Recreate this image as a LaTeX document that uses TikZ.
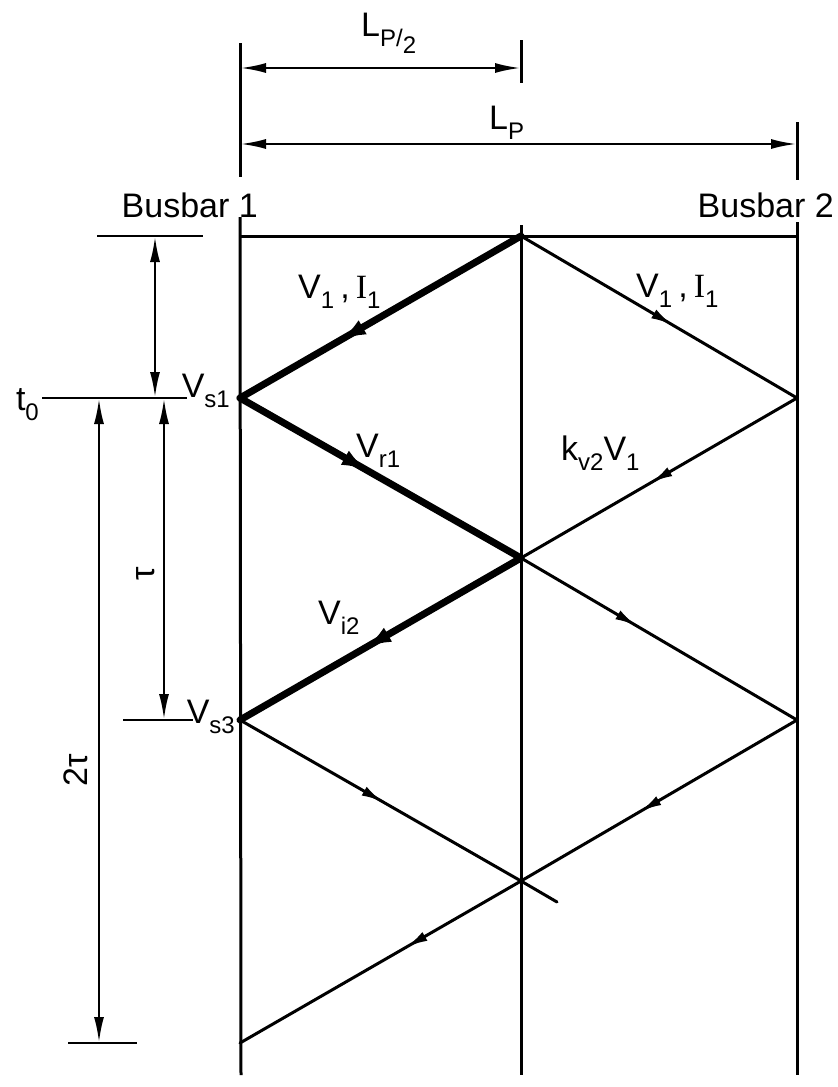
\documentclass[tikz,border=0pt]{standalone}
\usepackage{fontspec}
\setmainfont{Liberation Sans}
\newfontfamily\barfont{Liberation Serif}
\usetikzlibrary{arrows.meta,decorations.markings}
\newcommand\sbs[1]{\raisebox{-0.3em}{\fontsize{24}{24}\selectfont #1}}
\newcommand\barI{{\barfont I}}
\begin{document}
\begin{tikzpicture}[x=1pt,y=-1pt,
  lbl/.style={font=\fontsize{34}{34}\selectfont, inner sep=0pt},
  busline/.style={line width=3pt},
  wave/.style={line width=3pt, line cap=round},
  wavethick/.style={line width=7pt, line cap=round},
  marr/.style={postaction={decorate}, decoration={markings,
      mark=at position #1 with {\arrow{Latex[length=22pt,width=10pt]}}}},
  marrbig/.style={postaction={decorate}, decoration={markings,
      mark=at position #1 with {\arrow{Latex[length=28pt,width=16pt]}}}},
  dimline/.style={line width=2.8pt},
  dimarrow/.style={line width=2.6pt, {Latex[length=26pt,width=10pt]}-{Latex[length=26pt,width=10pt]}}
]
\useasboundingbox (0,0) rectangle (838,1087);

% ---- busbar / midpoint vertical lines
\coordinate (b1t) at (240,43);   \coordinate (b1u) at (240,177);
\coordinate (b1m) at (240,217);  \coordinate (b1b) at (241,1075);
\coordinate (mt) at (521,40);    \coordinate (mu) at (521,83);
\coordinate (mm) at (521,225);   \coordinate (mb) at (521,1075);
\coordinate (b2t) at (797,122);  \coordinate (b2u) at (797,180);
\coordinate (b2m) at (797,222);  \coordinate (b2b) at (797,1075);
\draw[busline] (b1t) -- (b1u);
\draw[busline] (b1m) -- (b1b);
\draw[busline] (mt) -- (mu);
\draw[busline] (mm) -- (mb);
\draw[busline] (b2t) -- (b2u);
\draw[busline] (b2m) -- (b2b);

% ---- lattice points
\coordinate (A) at (521,236);
\coordinate (B) at (240,398);
\coordinate (C) at (521,558);
\coordinate (D) at (797,398);
\coordinate (E) at (240,720);
\coordinate (F) at (797,720);
\coordinate (G) at (521,881);
\coordinate (H) at (240,1043);
\coordinate (Gx) at (557,902);
\coordinate (topL) at (240,236);
\coordinate (topR) at (797,236);

\draw[busline] (topL) -- (topR);

% thin waves
\draw[wave, marr=0.55] (A) -- (D);
\draw[wave, marr=0.53] (D) -- (C);
\draw[wave, marr=0.42] (C) -- (F);
\draw[wave, marr=0.51] (E) -- (G);
\draw[wave] (G) -- (Gx);
\draw[wave, marr=0.57] (F) -- (G);
\draw[wave, marr=0.41] (G) -- (H);

% thick path
\draw[wavethick, marrbig=0.65] (A) -- (B);
\draw[wavethick, marrbig=0.46] (B) -- (C);
\draw[wavethick, marrbig=0.56] (C) -- (E);

% ---- top dimensions
\coordinate (d1l) at (240,68);  \coordinate (d1r) at (521,68);
\coordinate (d2l) at (240,144); \coordinate (d2r) at (797,144);
\draw[dimarrow] (d1l) -- (d1r);
\draw[dimarrow] (d2l) -- (d2r);
\node[lbl, anchor=base west] (lp2) at (361,36) {L\sbs{P/\raisebox{-0.3em}{2}}};
\node[lbl, anchor=base west] (lp) at (489,129) {L\sbs{P}};

% ---- busbar labels
\node[lbl, anchor=base east] (bb1) at (258,217) {Busbar 1};
\node[lbl, anchor=base east] (bb2) at (834,217) {Busbar 2};

% ---- left time dimensions
\coordinate (k0l) at (97,236);  \coordinate (k0r) at (203,236);
\coordinate (t0l) at (42,398);  \coordinate (t0r) at (187,398);
\coordinate (k1l) at (123,720); \coordinate (k1r) at (193,720);
\coordinate (k2l) at (68,1043); \coordinate (k2r) at (137,1043);
\draw[dimline] (k0l) -- (k0r);
\draw[dimline] (t0l) -- (t0r);
\draw[dimline] (k1l) -- (k1r);
\draw[dimline] (k2l) -- (k2r);
\coordinate (a0t) at (155,236); \coordinate (a0b) at (155,398);
\coordinate (a1t) at (164,398); \coordinate (a1b) at (164,720);
\coordinate (a2t) at (99,398);  \coordinate (a2b) at (99,1043);
\draw[dimarrow] (a0t) -- (a0b);
\draw[dimarrow] (a1t) -- (a1b);
\draw[dimarrow] (a2t) -- (a2b);
\node[lbl, anchor=base east] (t0) at (39,410) {t\sbs{0}};
\node[lbl, rotate=90] (tau) at (146,574) {τ};
\node[lbl, rotate=90] (tau2) at (76,770) {2τ};

% ---- wave labels
\node[lbl, anchor=base east] (vs1) at (230,397) {V\sbs{s1}};
\node[lbl, anchor=base east] (vs3) at (235,723) {V\sbs{s3}};
\node[lbl, anchor=base west] (v1l) at (298,298) {V\sbs{1}\hspace{0.18em},\hspace{0.18em}\barI\sbs{1}};
\node[lbl, anchor=base west] (v1r) at (636,297) {V\sbs{1}\hspace{0.18em},\hspace{0.18em}\barI\sbs{1}};
\node[lbl, anchor=base west] (vr1) at (356,457) {V\sbs{r1}};
\node[lbl, anchor=base west] (kv2) at (561,460) {k\sbs{v2}V\sbs{1}};
\node[lbl, anchor=base west] (vi2) at (318,624) {V\sbs{i2}};
\end{tikzpicture}
\end{document}
